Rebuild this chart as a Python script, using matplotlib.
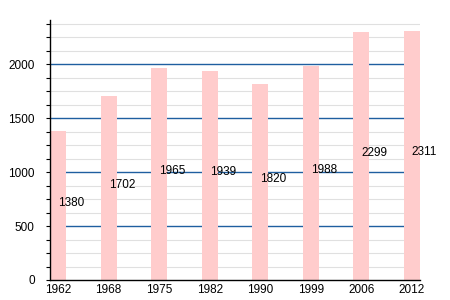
import matplotlib
matplotlib.use("Agg")
import matplotlib.pyplot as plt
import numpy as np

plt.rcParams["font.family"] = ["Liberation Sans", "DejaVu Sans"]

# Données
annees = ["1962", "1968", "1975", "1982", "1990", "1999", "2006", "2012"]
population = [1380, 1702, 1965, 1939, 1820, 1988, 2299, 2311]

fig = plt.figure(figsize=(4.5, 3), dpi=100)
ax = fig.add_axes([50 / 450, 20 / 300, 370 / 450, 260 / 300])

x = np.arange(len(annees))
ax.bar(x, population, width=0.32, color="#ffcccc", zorder=2)

# Etiquettes des valeurs (à mi-hauteur)
for xi, v in zip(x, population):
    ax.text(xi, v / 2, str(v), ha="left", va="baseline", fontsize=8.5, zorder=3)

# Grille
for y in np.arange(125, 2400, 125):
    if y % 500 == 0:
        ax.axhline(y, color="#1f5fa0", lw=1, zorder=1)
    else:
        ax.axhline(y, color="#e0e0e0", lw=0.8, zorder=1)

ax.set_xlim(-0.16, 7.16)
ax.set_ylim(0, 2410)
ax.set_xticks(x)
ax.set_xticklabels(annees, fontsize=8.5)
ax.set_yticks([0, 500, 1000, 1500, 2000])
ax.set_yticks(np.arange(0, 2400, 125), minor=True)
ax.tick_params(axis="y", labelsize=8.5, length=3, width=0.8, which="both", pad=8)
ax.tick_params(axis="x", length=0, pad=3)
ax.spines["top"].set_visible(False)
ax.spines["right"].set_visible(False)
ax.spines["left"].set_linewidth(1)
ax.spines["bottom"].set_linewidth(1)

plt.savefig("out.png", dpi=100)
